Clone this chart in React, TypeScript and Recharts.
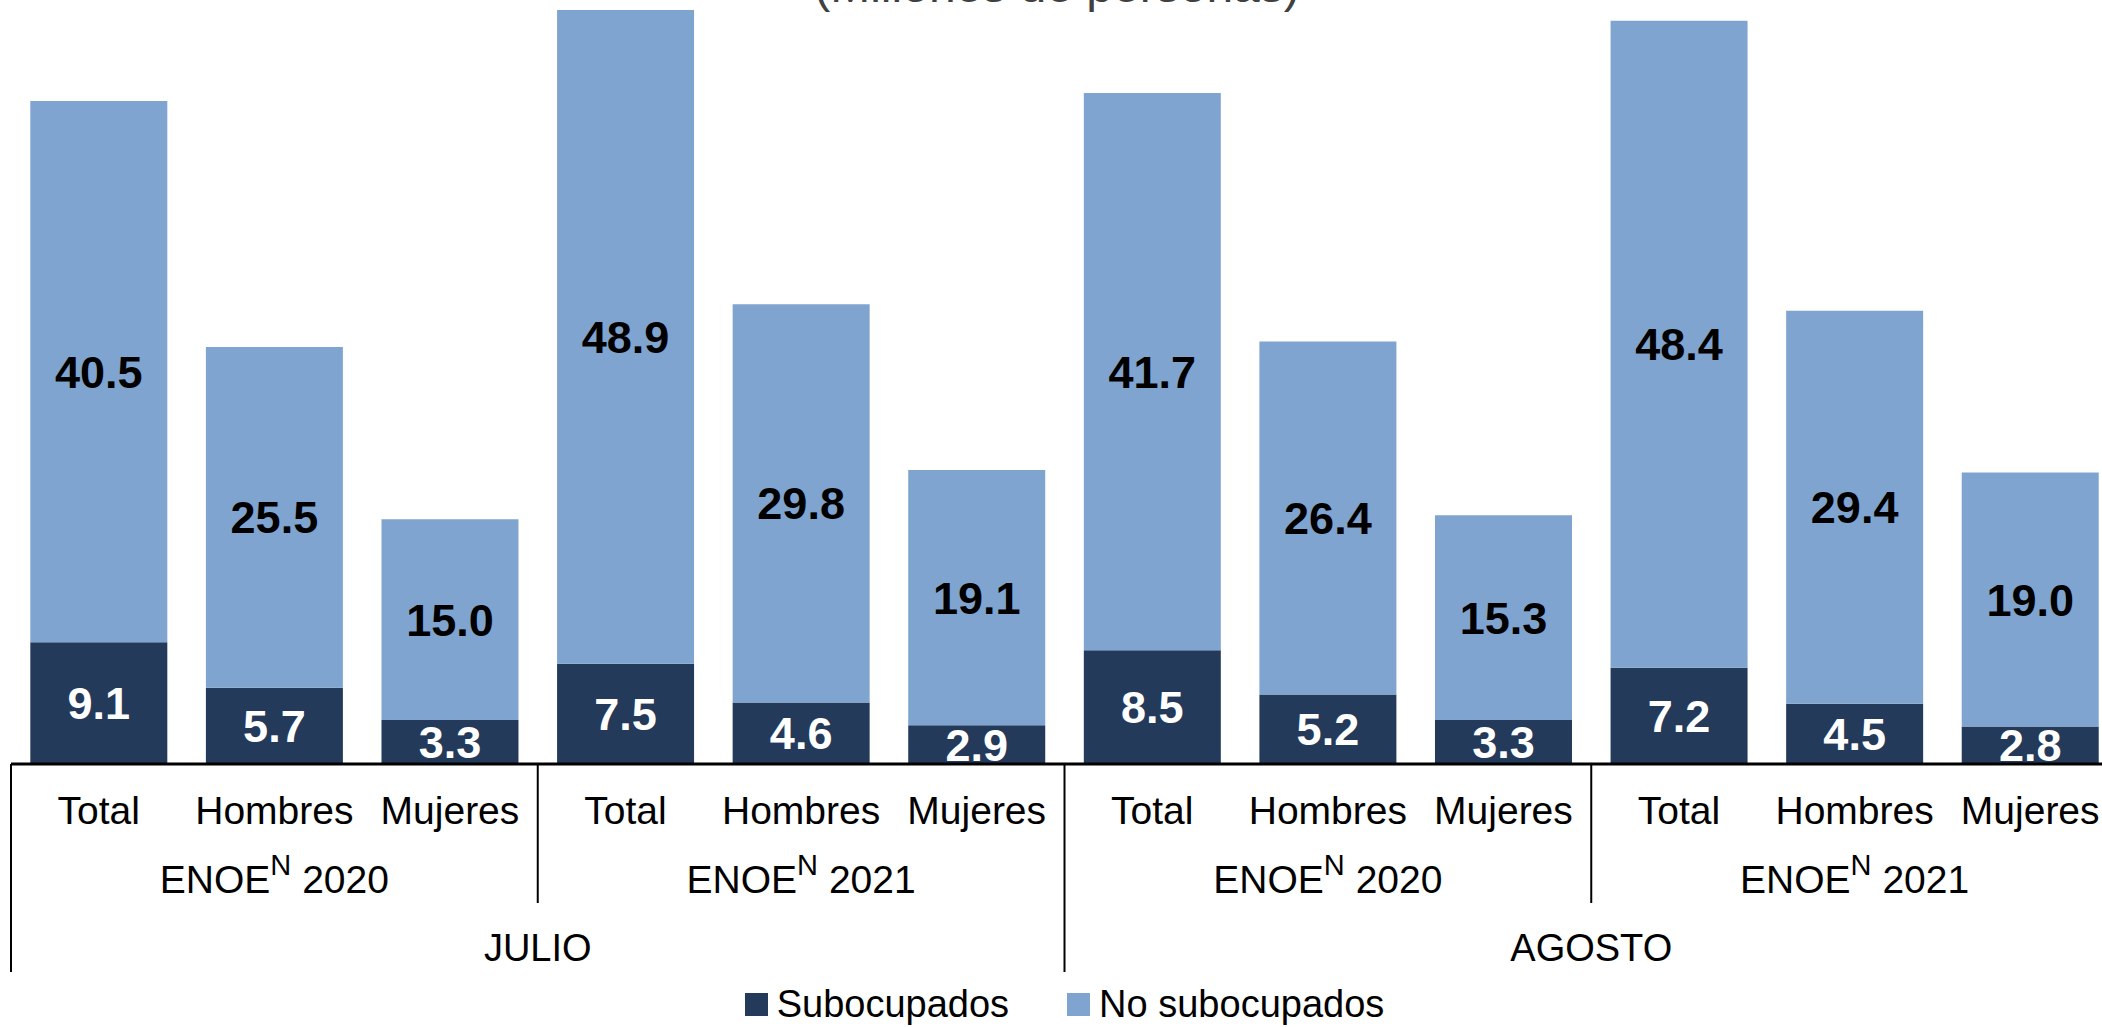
import { BarChart, Bar, XAxis, YAxis, LabelList, Legend } from "recharts";

const categories = [
  "Total", "Hombres", "Mujeres",
  "Total", "Hombres", "Mujeres",
  "Total", "Hombres", "Mujeres",
  "Total", "Hombres", "Mujeres",
];
const years = ["2020", "2021", "2020", "2021"];
const months = ["JULIO", "AGOSTO"];
const seriesNames = ["Subocupados", "No subocupados"];
const subocupados = [9.1, 5.7, 3.3, 7.5, 4.6, 2.9, 8.5, 5.2, 3.3, 7.2, 4.5, 2.8];
const noSubocupados = [40.5, 25.5, 15.0, 48.9, 29.8, 19.1, 41.7, 26.4, 15.3, 48.4, 29.4, 19.0];

const data = categories.map((c, i) => ({
  cat: c,
  sub: subocupados[i],
  noSub: noSubocupados[i],
}));

const FONT = "'Liberation Sans', Arial, sans-serif";
const DARK = "#233a5b";
const LIGHT = "#7fa4cf";

const CHART_W = 2140;
const CHART_H = 1027;
const MARGIN = { top: 2, right: 22, left: 11, bottom: 0 };
const PLOT_W = CHART_W - MARGIN.left - MARGIN.right;
const BAND = PLOT_W / categories.length;

const AxisTick = (props: any) => {
  const { x, y, payload, index } = props;
  const i = index ?? payload.index;
  const left = x - BAND / 2;
  const els: any[] = [];
  els.push(
    <text key="c" x={x} y={y + 60} textAnchor="middle" fontSize={39} fontFamily={FONT} fill="#000">
      {payload.value}
    </text>
  );
  if (i % 3 === 1) {
    els.push(
      <text key="g" x={x} y={y + 129} textAnchor="middle" fontSize={39} fontFamily={FONT} fill="#000">
        ENOE
        <tspan fontSize={29} dy={-18}>N</tspan>
        <tspan dy={18}> {years[Math.floor(i / 3)]}</tspan>
      </text>
    );
  }
  if (i % 3 === 0) {
    const long = i % 6 === 0;
    els.push(
      <line key="d" x1={left} x2={left} y1={y} y2={long ? y + 208 : y + 139} stroke="#000" strokeWidth={2} />
    );
  }
  if (i % 6 === 2) {
    els.push(
      <text key="m" x={x + BAND / 2} y={y + 197} textAnchor="middle" fontSize={38} fontFamily={FONT} fill="#000">
        {months[Math.floor(i / 6)]}
      </text>
    );
  }
  if (i === categories.length - 1) {
    els.push(
      <line key="e" x1={x + BAND / 2} x2={x + BAND / 2} y1={y} y2={y + 208} stroke="#000" strokeWidth={2} />
    );
  }
  return <g>{els}</g>;
};

const LegendContent = (props: any) => {
  const items = [...(props.payload || [])].sort(
    (a: any, b: any) => seriesNames.indexOf(a.value) - seriesNames.indexOf(b.value)
  );
  return (
    <div style={{ display: "flex", justifyContent: "center", gap: 58, fontFamily: FONT, fontSize: 38, color: "#000" }}>
      {items.map((p: any) => (
        <div key={p.value} style={{ display: "flex", alignItems: "center", gap: 9 }}>
          <span style={{ display: "inline-block", width: 23, height: 23, background: p.color }} />
          <span>{p.value}</span>
        </div>
      ))}
    </div>
  );
};

export default function App() {
  return (
    <div style={{ position: "absolute", left: 0, top: 0, width: 2102, height: 1027, overflow: "hidden", background: "#fff" }}>
      <BarChart width={CHART_W} height={CHART_H} data={data} margin={MARGIN} barCategoryGap="11%">
        <text x={1057} y={2} textAnchor="middle" fontSize={48} fontFamily={FONT} fill="#404040">
          (Millones de personas)
        </text>
        <XAxis
          dataKey="cat"
          height={219}
          interval={0}
          tickLine={false}
          tickSize={0}
          tickMargin={0}
          axisLine={{ stroke: "#000", strokeWidth: 3 }}
          tick={(p: any) => <AxisTick {...p} />}
        />
        <YAxis hide domain={[0, 57]} />
        <Legend verticalAlign="bottom" height={44} content={(p: any) => <LegendContent {...p} />} />
        <Bar dataKey="sub" name={seriesNames[0]} stackId="a" fill={DARK} isAnimationActive={false}>
          <LabelList
            dataKey="sub"
            position="center"
            fill="#fff"
            fontSize={45}
            fontWeight="bold"
            fontFamily={FONT}
            formatter={(v: any) => Number(v).toFixed(1)}
          />
        </Bar>
        <Bar dataKey="noSub" name={seriesNames[1]} stackId="a" fill={LIGHT} isAnimationActive={false}>
          <LabelList
            dataKey="noSub"
            position="center"
            fill="#000"
            fontSize={45}
            fontWeight="bold"
            fontFamily={FONT}
            formatter={(v: any) => Number(v).toFixed(1)}
          />
        </Bar>
      </BarChart>
    </div>
  );
}
